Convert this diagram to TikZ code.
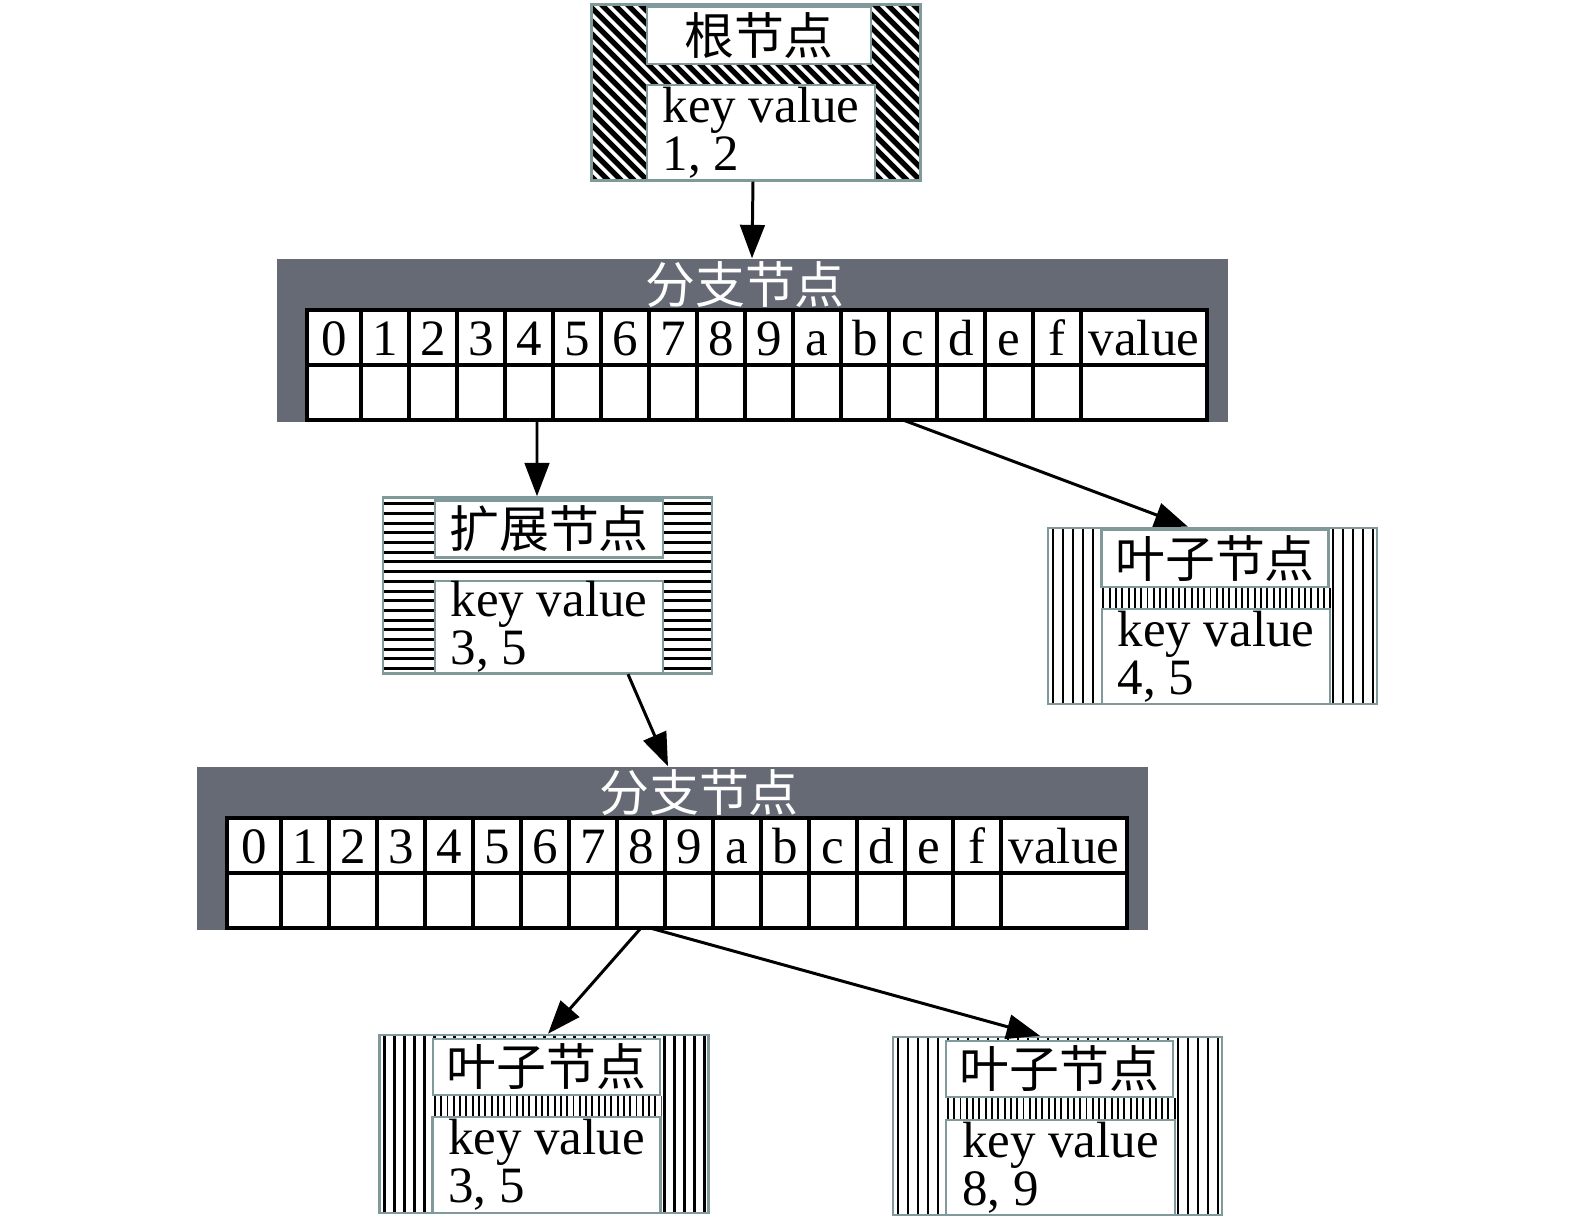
\documentclass[tikz,border=0pt]{standalone}
\usepackage{fontspec}
\setmainfont{Liberation Serif}
\newfontfamily\cjk{Noto Sans CJK SC}
\usetikzlibrary{positioning, arrows.meta}
\definecolor{edgegray}{RGB}{128,154,156}
\definecolor{slate}{RGB}{102,106,116}
\tikzset{outer node/.style={draw=edgegray, line width=0.7pt, inner sep=0pt, minimum width=3.29cm, minimum height=1.76cm},
  title box/.style={draw=edgegray, line width=0.7pt, fill=white, inner sep=0pt, minimum width=2.27cm, minimum height=0.57cm, font=\cjk\fontsize{14.2pt}{16pt}\selectfont},
  kv box/.style={draw=edgegray, line width=0.7pt, fill=white, inner sep=0pt, minimum width=2.28cm, minimum height=0.95cm, align=left, font=\fontsize{14.5pt}{13.6pt}\selectfont},
  branch node/.style={fill=slate, minimum width=9.51cm, minimum height=1.63cm, inner sep=0pt},
  branch title/.style={text=white, inner sep=0pt, font=\cjk\fontsize{14.2pt}{16pt}\selectfont},
  cell/.style={draw=black, line width=0.9pt, fill=white, minimum height=0.55cm, inner sep=0pt, outer sep=0pt, text height=12pt, text depth=1.5pt, font=\fontsize{14.5pt}{16pt}\selectfont},
  arrow/.style={-{Triangle[length=9.5pt,width=7pt]}, line width=0.85pt},
  diag lines/.style 2 args={path picture={\foreach \k in {0,...,45} \draw[black, line width=#1] ([xshift={(\k+0.3)*#2}]path picture bounding box.south west) -- ++(-2.5,2.5);}},
  hlines/.style 2 args={path picture={\foreach \k in {0,...,19} \draw[black, line width=#1] ([yshift={(\k+0.5)*#2}]path picture bounding box.south west) -- ([yshift={(\k+0.5)*#2}]path picture bounding box.south east);}},
  vlines/.style 2 args={path picture={\foreach \k in {0,...,36} \draw[black, line width=#1] ([xshift={(\k+0.5)*#2}]path picture bounding box.south west) -- ([xshift={(\k+0.5)*#2}]path picture bounding box.north west);}},}

\begin{document}
\begin{tikzpicture}
        \useasboundingbox (0,0) rectangle (15.75,12.30);
        % Root
        \node[outer node, diag lines={1.5pt}{0.13cm}] (root) at (7.56,11.375) {};
        \node[title box, minimum width=2.24cm] (roott) at (7.59,11.945) {根节点};
        \node[kv box] (rootkv) at (7.61,10.975) {key value\\1, 2};
        % Branch nodes
        \node[branch node] (bA) at (7.525,8.895) {};
        \node[branch title] (tA) at (7.45,9.45) {分支节点};
        \node[branch node] (bB) at (6.725,3.815) {};
        \node[branch title] (tB) at (6.99,4.37) {分支节点};
        \foreach \t/\x/\y in {A/3.07/8.925, B/2.27/3.845} {
            \coordinate (h\t-1) at (\x,\y);
            \foreach \lab/\w [count=\i from 0, remember=\i as \p (initially -1)] in {0/0.54,1/0.48,2/0.48,3/0.48,4/0.48,5/0.48,6/0.48,7/0.48,8/0.48,9/0.48,a/0.48,b/0.48,c/0.48,d/0.48,e/0.48,f/0.48,value/1.26} {
                \node[cell, minimum width=\w cm, right=0pt of h\t\p] (h\t\i) {\lab};
                \node[cell, minimum width=\w cm, below=0pt of h\t\i] (c\t\i) {};
            }
        }
        % Extension node
        \node[outer node, hlines={0.85pt}{0.097cm}] (ext) at (5.475,6.445) {};
        \node[title box, minimum width=2.28cm] (extt) at (5.49,7.01) {扩展节点};
        \node[kv box, minimum height=0.92cm] (extkv) at (5.49,6.03) {key value\\3, 5};
        % Leaf nodes
        \node[outer node, vlines={0.75pt}{0.1cm}] (leafA) at (12.125,6.14) {};
        \node[title box] (leafAt) at (12.15,6.715) {叶子节点};
        \node[kv box] (leafAkv) at (12.16,5.735) {key value\\4, 5};
        \node[outer node, vlines={1pt}{0.1cm}, minimum height=1.78cm] (leafB) at (5.44,1.06) {};
        \node[title box, minimum height=0.56cm] (leafBt) at (5.465,1.63) {叶子节点};
        \node[kv box, minimum height=0.96cm] (leafBkv) at (5.465,0.65) {key value\\3, 5};
        \node[outer node, vlines={0.65pt}{0.1cm}, minimum height=1.78cm] (leafC) at (10.575,1.04) {};
        \node[title box, minimum height=0.56cm] (leafCt) at (10.595,1.61) {叶子节点};
        \node[kv box, minimum width=2.29cm] (leafCkv) at (10.605,0.625) {key value\\8, 9};
        \foreach \n in {leafA,leafB,leafC}
            \path[fill=white, vlines={0.55pt}{0.063cm}] (\n t.south west) rectangle (\n kv.north east);
        % Paths
        \draw[arrow] ([xshift=-0.03cm]root.south) -- ([xshift=-0.005cm]bA.north);
        \draw[arrow] ([xshift=0.08cm]cA4.south) -- ([xshift=-0.105cm]ext.north);
        \draw[arrow] ([xshift=-0.10cm]cA12.south) -- ([xshift=-0.245cm]leafA.north);
        \draw[arrow] ([xshift=0.79cm]extkv.south) -- ([xshift=-0.045cm]bB.north);
        \draw[arrow] (cB8.south) -- ([xshift=0.04cm]leafB.north);
        \draw[arrow] ([xshift=0.09cm]cB8.south) -- ([xshift=-0.175cm]leafC.north);
\end{tikzpicture}
\end{document}
